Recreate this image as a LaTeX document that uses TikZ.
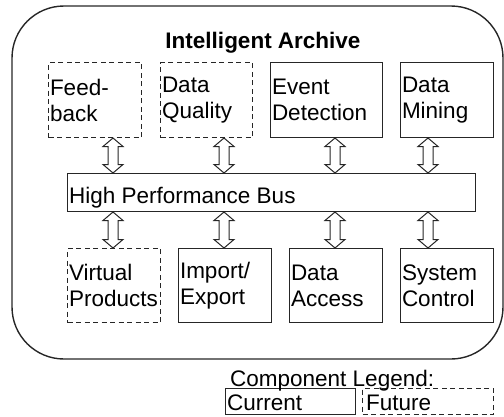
\documentclass[tikz,border=0pt]{standalone}
\usepackage{fontspec}
\setmainfont{Liberation Sans}
\usetikzlibrary{calc}
\tikzset{
  comp/.style={draw=black!85, line width=1pt, rectangle, anchor=north west, inner xsep=1.5pt, inner ysep=0pt, align=left, font=\fontsize{22.5}{26}\selectfont},
  future/.style={comp, dashed, dash pattern=on 5pt off 3.5pt},
  busbox/.style={draw=black!85, line width=1pt, rectangle, anchor=north west},
  archive/.style={draw=black!85, line width=1.4pt, rounded corners=52pt},
  arrowline/.style={draw=black!85, line width=1pt, fill=white},
  lbl/.style={inner sep=0pt, font=\fontsize{22.5}{26}\selectfont},
}
\newcommand\dblarr[2]{%
  \path[arrowline] let \p1=(#1), \p2=(#2) in
    (\x1,\y1) -- (\x1+10pt,\y1-8.5pt) -- (\x1+5pt,\y1-8.5pt) -- (\x1+5pt,\y2+8.5pt)
    -- (\x1+10pt,\y2+8.5pt) -- (\x1,\y2) -- (\x1-10pt,\y2+8.5pt) -- (\x1-5pt,\y2+8.5pt)
    -- (\x1-5pt,\y1-8.5pt) -- (\x1-10pt,\y1-8.5pt) -- cycle;}
\begin{document}
\begin{tikzpicture}[x=1pt,y=-1pt]
\useasboundingbox (0,0) rectangle (504,416);
% outer archive
\draw[archive] (12,6) rectangle (503,359);
\node[lbl, anchor=base, font=\fontsize{22.5}{26}\selectfont\bfseries] (title) at (263,48) {Intelligent Archive};
% top row
\node[future, minimum width=93pt, minimum height=75pt, text width=90pt] (fb) at (48,62) {Feed-\\back};
\node[future, minimum width=92pt, minimum height=75pt, text width=89pt] (dq) at (160,62) {Data\\Quality};
\node[comp, minimum width=112pt, minimum height=75pt, text width=109pt] (ed) at (270,62) {Event\\Detection};
\node[comp, minimum width=93pt, minimum height=75pt, text width=90pt] (dm) at (400,62) {Data\\Mining};
% bus
\node[busbox, minimum width=408pt, minimum height=38pt, inner sep=0pt] (bus) at (67,173) {};
\node[lbl, anchor=base west] (bustext) at (69,203) {High Performance Bus};
% bottom row
\node[future, minimum width=93pt, minimum height=74pt, text width=90pt] (vp) at (67,248) {Virtual\\Products};
\node[comp, minimum width=93pt, minimum height=74pt, text width=90pt] (ie) at (178,248) {Import/\\Export};
\node[comp, minimum width=93pt, minimum height=74pt, text width=90pt] (da) at (289,248) {Data\\Access};
\node[comp, minimum width=93pt, minimum height=74pt, text width=90pt] (sc) at (400,248) {System\\Control};
% arrows
\dblarr{113,0 |- fb.south}{113,0 |- bus.north}
\dblarr{224,0 |- dq.south}{224,0 |- bus.north}
\dblarr{335,0 |- ed.south}{335,0 |- bus.north}
\dblarr{428,0 |- dm.south}{428,0 |- bus.north}
\dblarr{113,0 |- bus.south}{113,0 |- vp.north}
\dblarr{224,0 |- bus.south}{224,0 |- ie.north}
\dblarr{335,0 |- bus.south}{335,0 |- da.north}
\dblarr{428,0 |- bus.south}{428,0 |- sc.north}
% legend
\node[busbox, minimum width=130pt, minimum height=26pt, inner sep=0pt] (cur) at (225,388) {};
\node[busbox, dashed, dash pattern=on 5pt off 3.5pt, minimum width=131pt, minimum height=26pt, inner sep=0pt] (fut) at (362,388) {};
\node[lbl, anchor=base west] (legend) at (230,386) {Component Legend:};
\node[lbl, anchor=base west] (curtext) at (227,410) {Current};
\node[lbl, anchor=base west] (futtext) at (366,410) {Future};
\end{tikzpicture}
\end{document}
